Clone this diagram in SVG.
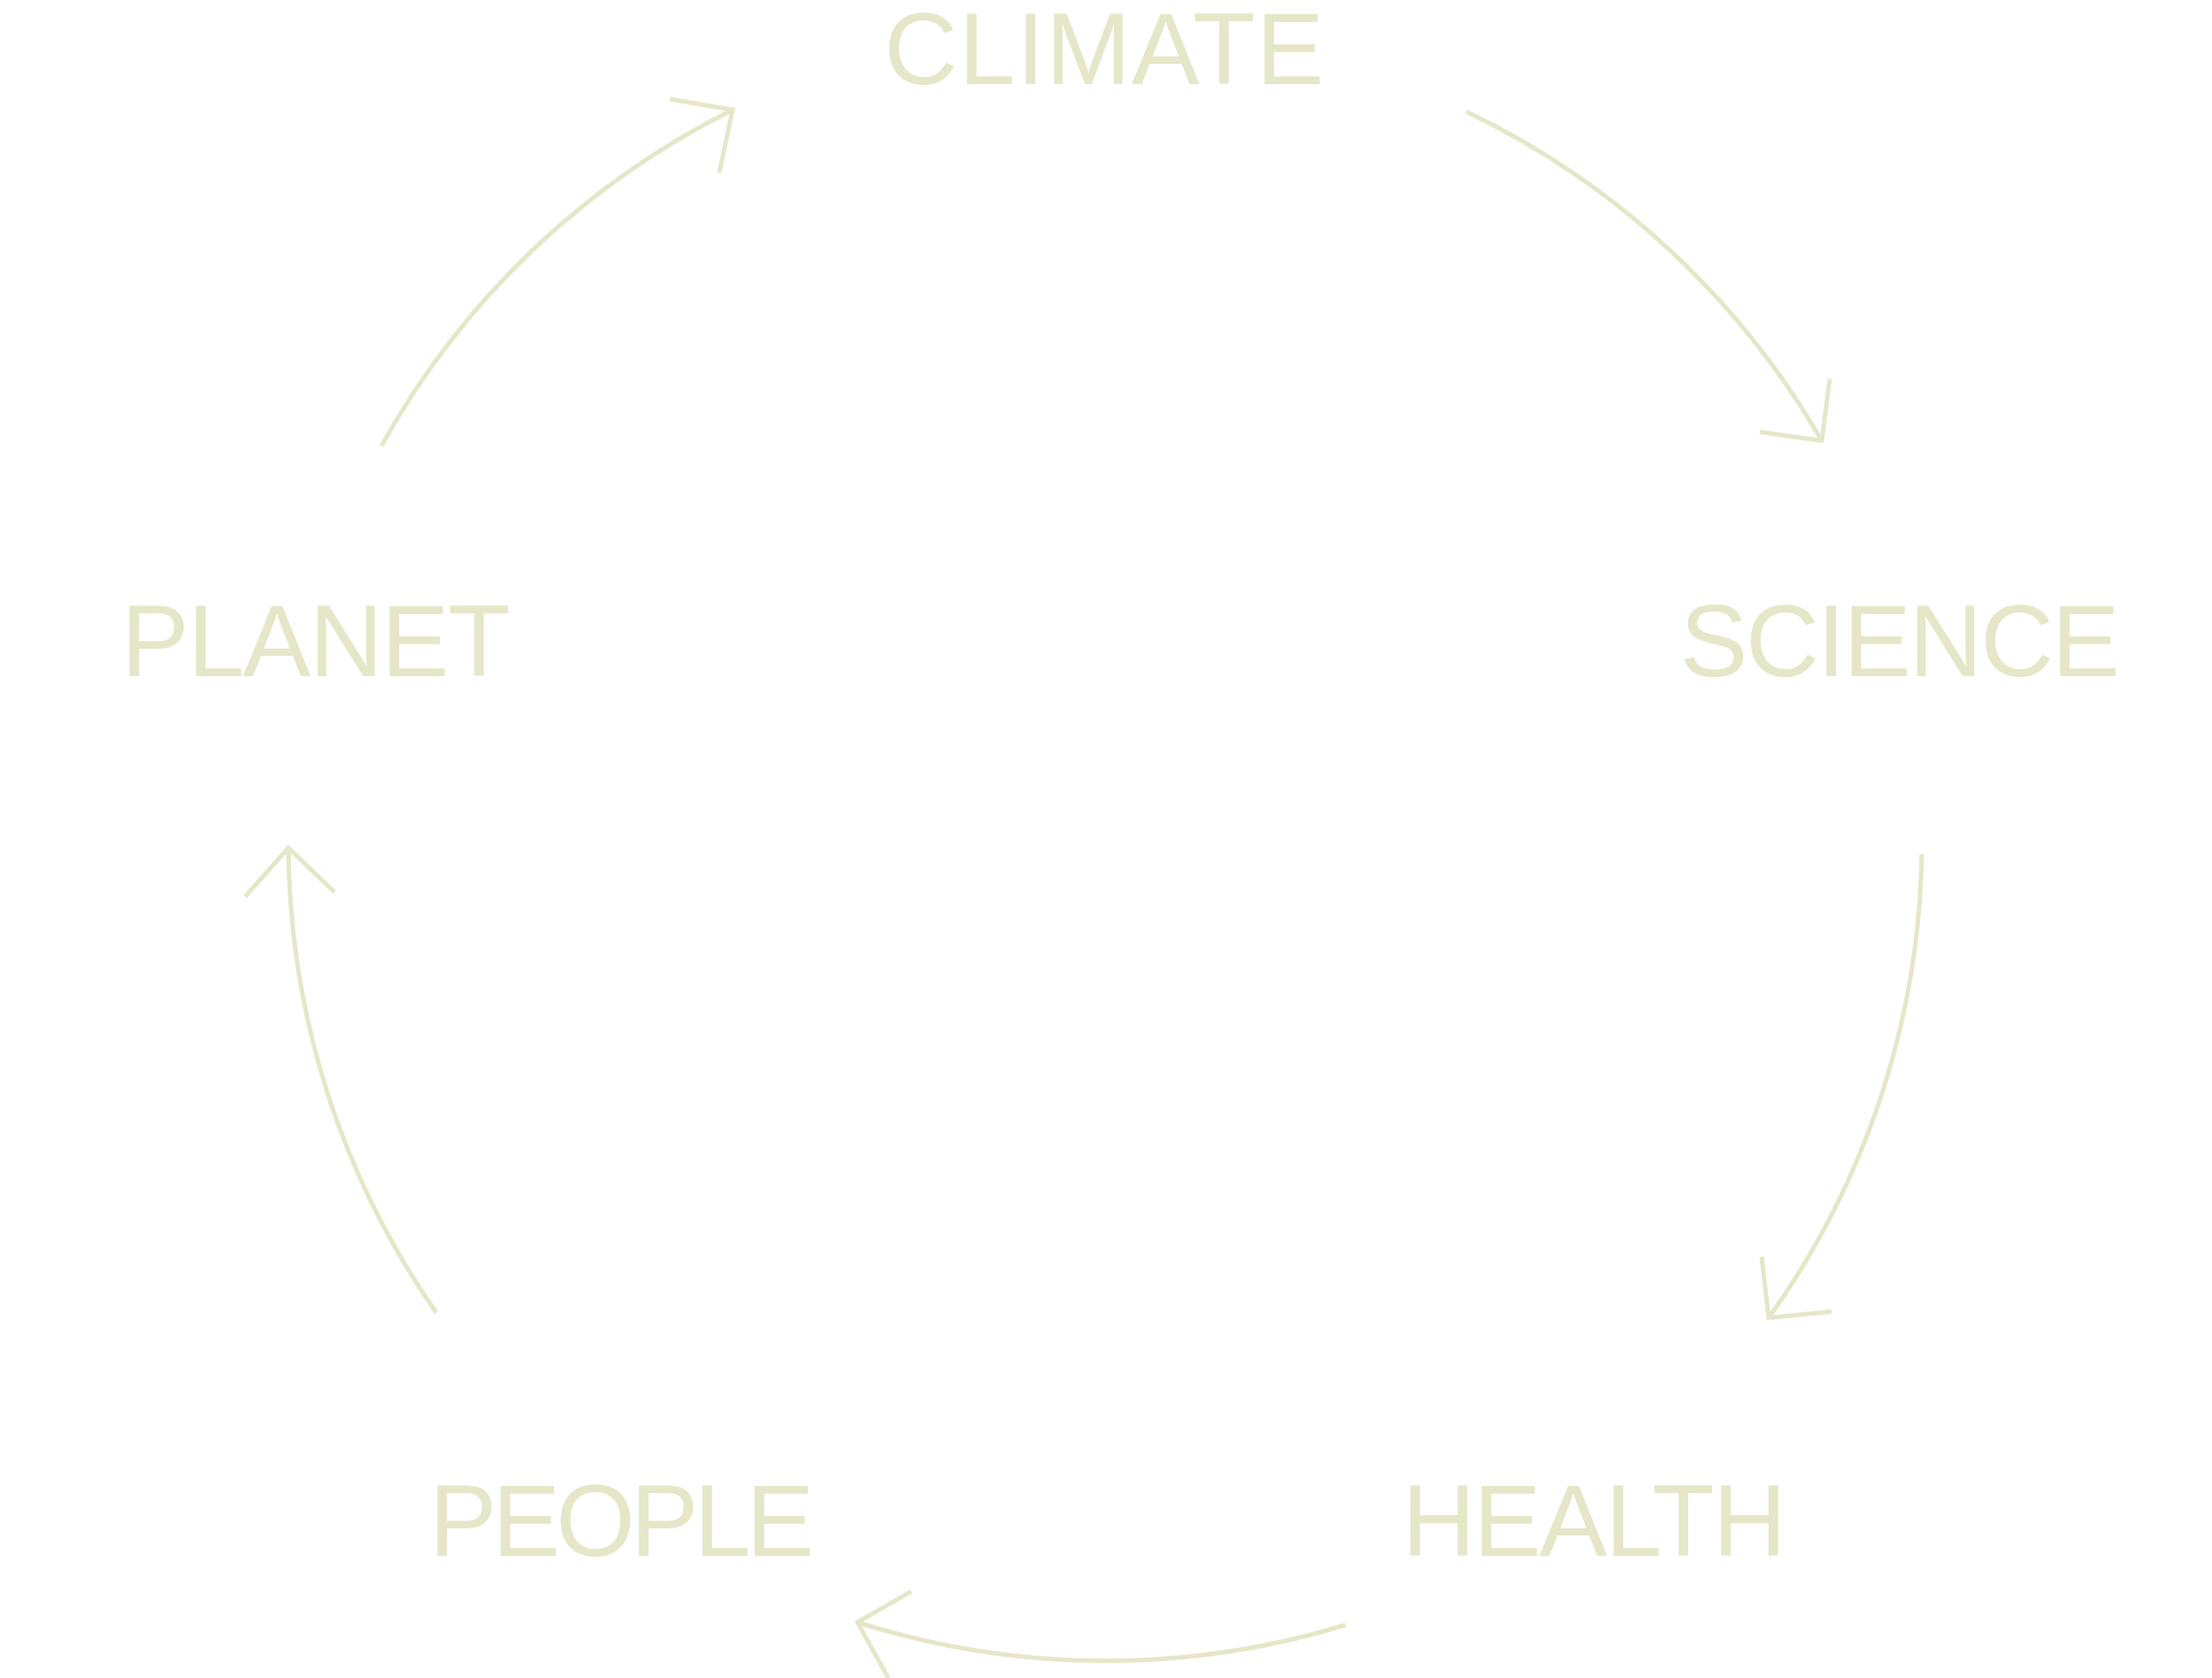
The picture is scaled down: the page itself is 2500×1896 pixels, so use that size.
<svg xmlns="http://www.w3.org/2000/svg" width="2500" height="1896" viewBox="0 0 2500 1896">
<style>
.lbl{font-family:"Liberation Sans",Arial,Helvetica,sans-serif;font-size:115px;fill:#e6e6c8;text-anchor:middle}
.arc{fill:none;stroke:#e6e6c8;stroke-width:5;stroke-linecap:butt}
.head{fill:none;stroke:#e6e6c8;stroke-width:5;stroke-linejoin:miter;stroke-linecap:butt}
</style>
<rect x="0" y="0" width="2500" height="1896" fill="#ffffff"/>
<g id="connectors">
<g id="planet-climate">
<path class="arc" d="M 431 504 A 926 926 0 0 1 828 124"/>
<polyline class="head" points="757,112 828,124 813,195"/>
</g>
<g id="climate-science">
<path class="arc" d="M 1657 126 A 926 926 0 0 1 2059 498"/>
<polyline class="head" points="2068,428 2059,498 1989,488"/>
</g>
<g id="science-health">
<path class="arc" d="M 2172 965 A 926 926 0 0 1 1999 1489"/>
<polyline class="head" points="1991,1420 1999,1489 2070,1482"/>
</g>
<g id="health-people">
<path class="arc" d="M 1521 1836 A 926 926 0 0 1 969 1833"/>
<polyline class="head" points="1030,1798 969,1833 1004,1896"/>
</g>
<g id="people-planet">
<path class="arc" d="M 493 1483 A 926 926 0 0 1 326 958"/>
<polyline class="head" points="277,1013 326,958 378,1008"/>
</g>
</g>
<g id="climate"><text class="lbl" x="1248.5" y="95" letter-spacing="1.2">CLIMATE</text></g>
<g id="science"><text class="lbl" x="2146" y="764" letter-spacing="-2.4">SCIENCE</text></g>
<g id="health"><text class="lbl" x="1800.5" y="1758" letter-spacing="-2.2">HEALTH</text></g>
<g id="people"><text class="lbl" x="700" y="1758" letter-spacing="-5">PEOPLE</text></g>
<g id="planet"><text class="lbl" x="356" y="764" letter-spacing="-1.6">PLANET</text></g>
</svg>
